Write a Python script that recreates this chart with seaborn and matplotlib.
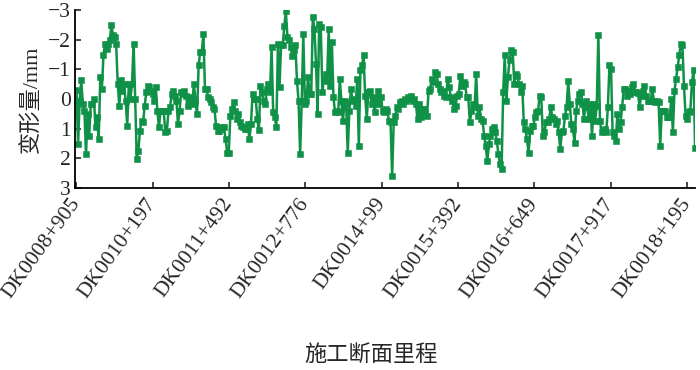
import numpy as np
import pandas as pd
import matplotlib
matplotlib.use("Agg")
import matplotlib.pyplot as plt
import matplotlib.transforms as mtransforms
import seaborn as sns

# deformation values (mm), left to right
seg1 = [-0.3, 1.53, 0.06, -0.64, 0.17, 0.40, 1.86, 0.51, 1.24, 0.17, 0.17, 0.0, 0.96, 0.62, 1.36,
        -0.73, -0.34, -1.47, -1.86, -1.69, -1.86, -1.98, -2.49, -2.15, -2.09, -1.86, -0.51, 0.23,
        -0.64, -0.28, -0.51, 0.06, 0.90, -0.51, 0.0, -0.51, -1.86, 0.0, 2.03, 1.75, 1.07, 0.73,
        0.79, 0.23, -0.23, -0.45, -0.40, -0.28, -0.17, 0.06, -0.40, 0.40, 0.96]
seg2 = [0.40, 0.40, 0.40, 1.13, 1.07, 0.40, 0.28, -0.17, -0.28, -0.11, 0.06, 0.85, 0.40, -0.23,
        -0.17, -0.26, -0.11, 0.23, -0.06, 0.06, 0.17, -0.51, 0.06, 0.51, -1.13, -1.58, -1.58,
        -2.20, -0.34, -0.34, -0.06, 0.0, 0.11, 0.28, 0.34, 0.90, 1.07, 1.07, 1.02, 0.96, 0.96,
        1.36, 1.81, 1.81, 0.56, 0.34, 0.11, 0.40, 0.68, 0.51, 0.79, 0.90]
seg3 = [0.96, 1.02, 1.02, 0.85, 1.36, 0.85, -0.17, 0.0, 0.0, 0.68, 1.05, -0.45, -0.23, 0.06,
        0.17, -0.34, -0.51, -0.23, -1.75, 0.45, 0.60, 0.94, -1.86, -0.42, -1.81, -1.81, -2.45,
        -2.95, -2.09, -2.0, -1.75, -1.44, -1.64, -1.81, -0.62, 0.06, 1.86, 0.06, -2.20, 0.17,
        0.06, -0.73, -0.17, -0.17, -2.77, -2.37, -1.19, 0.51, -2.52, -2.43, -0.23, -0.68, -0.85,
        -0.62, -2.37]
seg4 = [-0.45, -1.92, -0.06, 0.45, 0.40, 0.45, -0.68, 0.06, 0.73, 0.06, 0.17, 1.81, 0.40,
        -0.34, 0.06, 0.0, 0.23, -0.68, 1.58, -0.96, -1.13, -1.47, -0.11, 0.68, -0.23, -0.28,
        0.17, -0.06, 0.45, 0.06, -0.28, 0.17, -0.06, 0.40, 0.45, 0.34, 0.40, 0.73, 0.79, 2.60,
        0.79, 0.56, 0.28, 0.34, 0.11, 0.06, 0.17, 0.0, 0.06, -0.06, 0.0, -0.11, 0.06, 0.0, 0.17,
        0.68]
seg5 = [0.17, 0.62, 0.34, 0.34, 0.45, 0.56, -0.28, -0.34, -0.68, -0.56, -0.90, -0.85, -0.51,
        -0.34, -0.23, -0.28, -0.11, -0.06, -0.68, -0.40, -0.06, 0.06, 0.34, 0.23, -0.11, -0.17,
        -0.79, -0.45, -0.56, -0.51, -0.06, -0.06, 0.79, 0.40, 0.17, 0.28, -0.85, 0.56, 0.28,
        0.68, 0.73, 1.24, 1.58, 2.09, 1.53, 1.24, 1.02, 0.96, 1.13, 1.41, 1.86, 2.20, 2.37,
        -0.23, -1.47]
seg6 = [0.06, -0.73, -1.30, -1.64, -1.58, -0.51, -0.85, -0.79, -0.51, -0.23, -0.45, 0.79, 1.02,
        1.36, 1.81, 1.07, 0.90, 0.90, 0.62, 0.45, 0.40, -0.11, -0.06, 1.24, 1.13, 0.79, 0.79,
        0.68, 0.28, 0.62, 0.68, 0.85, 0.73, 1.13, 1.69, 1.13, 1.07, 0.56, 0.28, -0.62, 0.17,
        0.85, 1.02, 1.47, 0.40, 0.06, -0.17, -0.23, 0.17, 0.68, 0.06, 0.28, 0.68, 0.17, 1.24]
seg7 = [0.17, 0.73, 0.23, -2.15, 0.73, 1.13, 1.07, 1.02, 1.13, 0.28, -1.13, -1.02, 1.13, 1.24,
        1.41, 0.51, 1.02, 0.79, 0.28, -0.34, -0.34, -0.11, -0.28, -0.17, -0.42, -0.51, -0.23,
        -0.23, -0.19, 0.26, -0.11, -0.28, -0.45, -0.11, 0.06, 0.06, 0.06, -0.34, 0.06, 0.11,
        0.06, 0.11, 1.58, 0.40, 0.40, 0.40, 0.62, 0.62, 0.62, 0.0, 1.13, -0.28, -0.68, -1.07,
        -1.47, -1.86, -1.81, -0.45, 0.56, 0.68, 0.45, 0.40, -0.56, -0.96, 1.64]

tick_labels = ["DK0008+905", "DK0010+197", "DK0011+492", "DK0012+776", "DK0014+99",
               "DK0015+392", "DK0016+649", "DK0017+917", "DK0018+195"]

values = seg1 + seg2 + seg3 + seg4 + seg5 + seg6 + seg7
df = pd.DataFrame({"idx": np.arange(len(values)), "deform": values})
n = len(values)

sns.set_style("ticks")
plt.rcParams["font.family"] = ["Liberation Serif", "Noto Sans CJK SC"]
plt.rcParams["axes.unicode_minus"] = True

fig = plt.figure(figsize=(7, 3.7), dpi=100)
ax = fig.add_axes([0.107, 0.492, 0.886, 0.481])

green = "#0f9247"
sns.lineplot(data=df, x="idx", y="deform", ax=ax, color=green, linewidth=1.8,
             marker="s", markersize=4.2, markeredgewidth=0.4, markeredgecolor=green)

ax.set_xlim(-1, n - 1)
ax.set_ylim(3, -3)
ax.set_yticks([-3, -2, -1, 0, 1, 2, 3])
ax.set_xticks(np.linspace(0, (n - 1) * 612 / 620, len(tick_labels)))
ax.set_xticklabels(tick_labels, rotation=54, ha="right", va="center",
                   rotation_mode="anchor", fontsize=15.5)
shift = mtransforms.ScaledTranslation(4 / 72, 0, fig.dpi_scale_trans)
for lab in ax.get_xticklabels():
    lab.set_transform(lab.get_transform() + shift)
ax.tick_params(axis="y", labelsize=15.5, direction="in", length=4, width=1.2, pad=3)
ax.tick_params(axis="x", direction="in", length=4, width=1.2, pad=9)

sns.despine(ax=ax)
for s in ["left", "bottom"]:
    ax.spines[s].set_linewidth(1.3)
    ax.spines[s].set_color("black")

ax.set_ylabel("变形量/mm", fontsize=16, labelpad=4)
ax.set_xlabel("")
fig.text(0.53, 0.04, "施工断面里程", ha="center", va="center", fontsize=16)

fig.savefig("out.png", dpi=100)
